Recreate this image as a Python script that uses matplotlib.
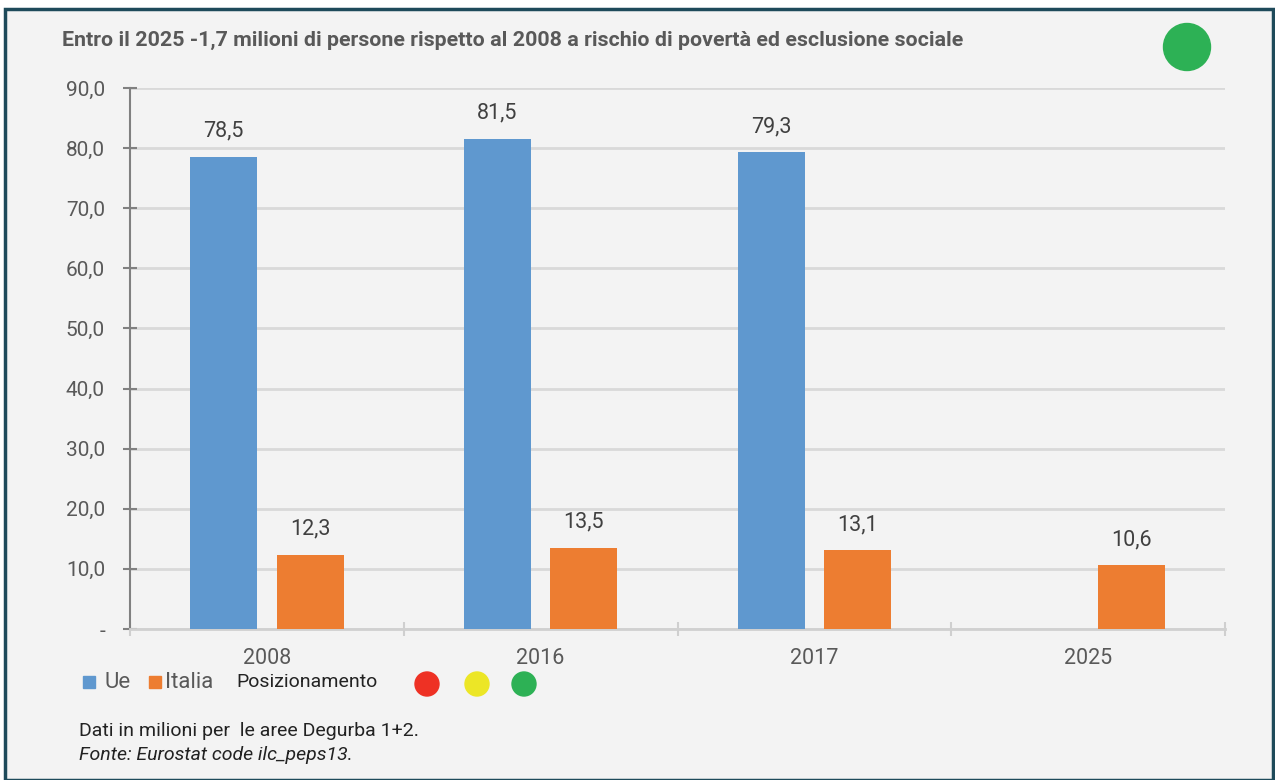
#!/usr/bin/env python3
"""Bar chart: persone a rischio di povertà ed esclusione sociale, Ue vs Italia."""

import matplotlib.pyplot as plt
import numpy as np
from matplotlib.patches import Circle, Rectangle

YEARS = ["2008", "2016", "2017", "2025"]
UE = [78.5, 81.5, 79.3, np.nan]
ITALIA = [12.3, 13.5, 13.1, 10.6]
Y_TICKS = [0, 10, 20, 30, 40, 50, 60, 70, 80, 90]

TITLE = "Entro il 2025 -1,7 milioni di persone rispetto al 2008 a rischio di povertà ed esclusione sociale"
NOTE = "Dati in milioni per  le aree Degurba 1+2."
SOURCE = "Fonte: Eurostat code ilc_peps13."

BLUE = "#5f98cf"
ORANGE = "#ed7d31"
TEXT = "#595959"
BG = "#f3f3f3"

plt.rcParams["font.family"] = ["Roboto", "DejaVu Sans"]


def fmt(v: float) -> str:
    return f"{v:.1f}".replace(".", ",")


def main() -> None:
    fig = plt.figure(figsize=(12.75, 7.8), dpi=100)
    fig.patch.set_facecolor("white")
    W, H = 1275, 780

    # panel background + dark frame
    fig.add_artist(Rectangle((5 / W, 0), 1 - 7 / W, 1 - 9 / H, transform=fig.transFigure,
                             facecolor=BG, edgecolor="#1e4a5a", linewidth=2.5, zorder=-10))

    ax = fig.add_axes([130 / W, 1 - 629 / H, 1095 / W, 541 / H])
    ax.set_facecolor(BG)

    x = np.arange(len(YEARS))
    width = 0.245
    off = 0.158
    ue = np.array(UE, dtype=float)
    it = np.array(ITALIA, dtype=float)
    ax.bar(x - off, ue, width=width, color=BLUE, zorder=3)
    ax.bar(x + off, it, width=width, color=ORANGE, zorder=3)

    for xi, v in zip(x, ue):
        if not np.isnan(v):
            ax.annotate(fmt(v), (xi - off, v), xytext=(0, 18.5), textcoords="offset points",
                        ha="center", va="center", fontsize=15.5, color="#404040")
    for xi, v in zip(x, it):
        ax.annotate(fmt(v), (xi + off, v), xytext=(0, 18.5), textcoords="offset points",
                    ha="center", va="center", fontsize=15.5, color="#404040")

    ax.set_xlim(-0.5, len(YEARS) - 0.5)
    ax.set_ylim(0, 90)
    ax.set_yticks(Y_TICKS)
    ax.set_yticklabels(["-"] + [fmt(t) for t in Y_TICKS[1:]], fontsize=15, color=TEXT)
    ax.grid(axis="y", color="#d9d9d9", linewidth=2, zorder=0)
    ax.set_axisbelow(True)

    ax.set_xticks(x)
    ax.set_xticklabels(YEARS, fontsize=15.5, color=TEXT)
    ax.tick_params(axis="x", which="major", length=0, pad=14)
    ax.set_xticks(np.arange(-0.5, len(YEARS)), minor=True)
    ax.tick_params(axis="x", which="minor", direction="inout", length=10, width=1.5, color="#cfcfcf")
    ax.tick_params(axis="y", direction="inout", length=10, width=1.5, color="#808080", pad=13)

    for s in ("top", "right"):
        ax.spines[s].set_visible(False)
    ax.spines["left"].set_color("#808080")
    ax.spines["left"].set_linewidth(1.5)
    ax.spines["bottom"].set_color("#d0d0d0")
    ax.spines["bottom"].set_linewidth(2)

    fig.text(62 / W, 1 - 40 / H, TITLE, fontsize=15.4, fontweight="bold", color=TEXT,
             ha="left", va="center")

    top_ax = fig.add_axes([0, 0, 1, 1], facecolor="none")
    top_ax.set_xlim(0, W)
    top_ax.set_ylim(H, 0)
    top_ax.axis("off")
    top_ax.add_patch(Circle((1187, 47), 23.5, color="#2db155"))

    # legend
    ly = 682
    top_ax.add_patch(Rectangle((83, ly - 6), 12, 12, color=BLUE))
    top_ax.text(104, ly, "Ue", fontsize=16, color=TEXT, va="center")
    top_ax.add_patch(Rectangle((149, ly - 6), 12, 12, color=ORANGE))
    top_ax.text(165, ly, "Italia", fontsize=16, color=TEXT, va="center")
    top_ax.text(236, ly, "Posizionamento", fontsize=14, color="#222222", va="center")
    for cx, col in ((427, "#ee3124"), (477, "#ece626"), (524, "#2db155")):
        top_ax.add_patch(Circle((cx, ly + 2), 12, color=col))

    top_ax.text(79, 731, NOTE, fontsize=14, color="#222222", va="center")
    top_ax.text(79, 755, SOURCE, fontsize=14, color="#222222", va="center", style="italic")

    fig.savefig("out.png", dpi=100, facecolor=fig.get_facecolor())
    plt.close(fig)


if __name__ == "__main__":
    main()
